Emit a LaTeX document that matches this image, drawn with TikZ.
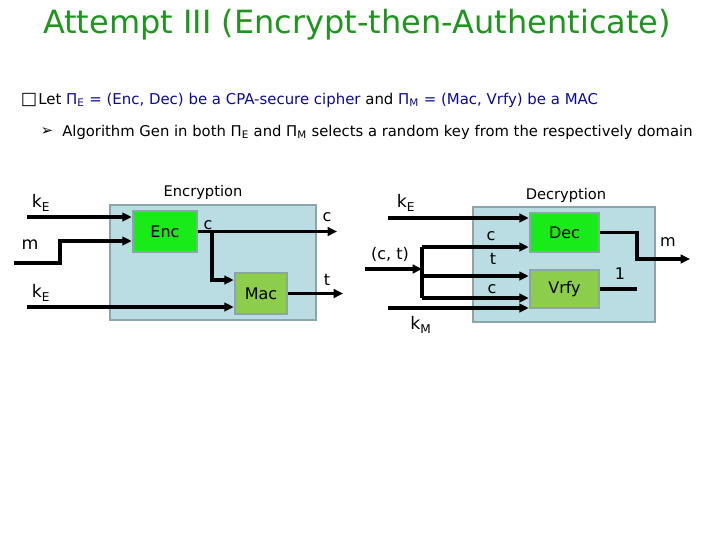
\documentclass[tikz,border=0pt]{standalone}
\usepackage{fontspec}
\setmainfont{DejaVu Sans}
\usepackage{xcolor}
\usepackage{tikz}
\usetikzlibrary{arrows.meta}

\definecolor{titlegreen}{RGB}{30,150,30}
\definecolor{navytext}{RGB}{10,10,150}
\definecolor{panelfill}{RGB}{185,221,227}
\definecolor{paneledge}{RGB}{140,165,170}
\definecolor{brightgreen}{RGB}{25,235,25}
\definecolor{olivegreen}{RGB}{140,206,75}

\tikzset{
  panel/.style={draw=paneledge, fill=panelfill, line width=2pt, inner sep=0pt},
  algbox/.style={draw=paneledge, line width=2pt, inner sep=0pt, font=\fontsize{12}{14}\selectfont},
  wire/.style={line width=2.3pt},
  arr/.style={wire, -{Triangle[length=7pt,width=6.5pt]}},
  lbl/.style={inner sep=0.75pt, font=\fontsize{11}{13}\selectfont},
}

\begin{document}
\begin{tikzpicture}[x=0.75pt,y=0.75pt,yscale=-1,xscale=1]
\path[use as bounding box] (0,0) rectangle (720,540);

% Title
\node (title) [inner sep=0pt, text=titlegreen, font=\fontsize{24}{28}\selectfont] at (357,25) {Attempt III (Encrypt-then-Authenticate)};
% Bullet lines
\node (bulA) [inner sep=0pt, font=\fontsize{13}{15}\selectfont] at (29,100) {□};
\node (lineA) [anchor=west, inner sep=0pt, font=\fontsize{11.2}{13}\selectfont] at (38,100) {Let \textcolor{navytext}{Π\textsubscript{E} = (Enc, Dec) be a CPA-secure cipher} and \textcolor{navytext}{Π\textsubscript{M} = (Mac, Vrfy) be a MAC}};
\node (bulB) [inner sep=0pt, font=\fontsize{11}{13}\selectfont] at (47,132) {➢};
\node (lineB) [anchor=west, inner sep=0pt, font=\fontsize{11.1}{13}\selectfont] at (62,132) {Algorithm Gen in both Π\textsubscript{E} and Π\textsubscript{M} selects a random key from the respectively domain};

%Shape: Rectangle (encryption panel)
\node (encpanel) [panel, minimum width=206*0.75pt, minimum height=115*0.75pt] at (213,262.5) {};
%Shape: Rectangle (decryption panel)
\node (decpanel) [panel, minimum width=182*0.75pt, minimum height=115*0.75pt] at (564,264.5) {};
%Shape: Rectangle
\node (enc) [algbox, fill=brightgreen, minimum width=64*0.75pt, minimum height=41*0.75pt] at (165,231.5) {Enc};
%Shape: Rectangle
\node (mac) [algbox, fill=olivegreen, minimum width=52*0.75pt, minimum height=41*0.75pt] at (261,293.5) {Mac};
%Shape: Rectangle
\node (dec) [algbox, fill=brightgreen, minimum width=69*0.75pt, minimum height=39*0.75pt] at (564.5,232.5) {Dec};
%Shape: Rectangle
\node (vrfy) [algbox, fill=olivegreen, minimum width=69*0.75pt, minimum height=38*0.75pt] at (564.5,289) {Vrfy};

% free ends
\coordinate (keIn) at (27,217);
\coordinate (mIn) at (14,263);
\coordinate (kaIn) at (27,307);
\coordinate (cOut) at (337,231.5);
\coordinate (cBr) at (212,231.5);
\coordinate (tOut) at (343,293.5);
\coordinate (kdIn) at (388,218);
\coordinate (ctIn) at (365,269);
\coordinate (ctBr) at (422,269);
\coordinate (kmIn) at (388,308);
\coordinate (mOut) at (690,259);
\coordinate (okOut) at (637,289);

%Straight Lines (encryption side)
\draw [arr] (keIn) -- (keIn -| enc.west);
\draw [arr] (mIn) -- (60,263) -- (60,241) -- (enc.west |- 0,241);
\draw [arr] (kaIn) -- (kaIn -| mac.west);
\draw [arr] (enc.east) -- (cOut);
\draw [arr] (cBr) -- (212,280) -- (mac.west |- 0,280);
\draw [arr] (mac.east) -- (tOut);

%Straight Lines (decryption side)
\draw [arr] (kdIn) -- (kdIn -| dec.west);
\draw [arr] (ctIn) -- (ctBr);
\draw [wire] (422,247) -- (422,298);
\draw [arr] (422,247) -- (dec.west |- 0,247);
\draw [arr] (ctBr |- 0,276) -- (vrfy.west |- 0,276);
\draw [arr] (422,298) -- (vrfy.west |- 0,298);
\draw [arr] (kmIn) -- (kmIn -| vrfy.west);
\draw [arr] (dec.east) -- (637,232.5) -- (637,259) -- (mOut);
\draw [wire] (vrfy.east) -- (okOut);

% Text Node
\node (encT) [lbl] at (203,192) {Encryption};
\node (decT) [lbl] at (566,195) {Decryption};
\node (keA) [lbl, font=\fontsize{13}{15}\selectfont] at (41,203) {k\textsubscript{E}};
\node (mA) [lbl, font=\fontsize{13}{15}\selectfont] at (30,245) {m};
\node (keB) [lbl, font=\fontsize{13}{15}\selectfont] at (41,293) {k\textsubscript{E}};
\node (cA) [lbl, font=\fontsize{12}{14}\selectfont] at (208,225) {c};
\node (cB) [lbl, font=\fontsize{12}{14}\selectfont] at (327,217) {c};
\node (tA) [lbl, font=\fontsize{12}{14}\selectfont] at (327,280) {t};
\node (keC) [lbl, font=\fontsize{13}{15}\selectfont] at (406,203) {k\textsubscript{E}};
\node (ctL) [lbl, font=\fontsize{12}{14}\selectfont] at (390,254) {(c, t)};
\node (cC) [lbl, font=\fontsize{12}{14}\selectfont] at (491,236) {c};
\node (tB) [lbl, font=\fontsize{12}{14}\selectfont] at (493,259) {t};
\node (cD) [lbl, font=\fontsize{12}{14}\selectfont] at (492,289) {c};
\node (kmL) [lbl, font=\fontsize{13}{15}\selectfont] at (421,325) {k\textsubscript{M}};
\node (mB) [lbl, font=\fontsize{12}{14}\selectfont] at (668,242) {m};
\node (oneL) [lbl, font=\fontsize{12}{14}\selectfont] at (620,274) {1};

\end{tikzpicture}
\end{document}
